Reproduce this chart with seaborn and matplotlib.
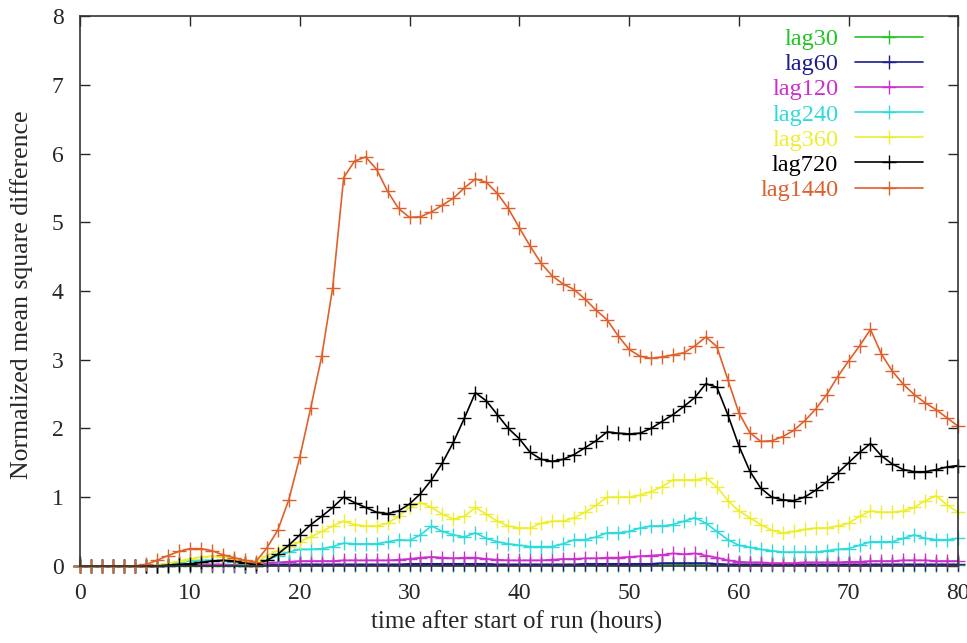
import numpy as np
import pandas as pd
import seaborn as sns
import matplotlib.pyplot as plt

hours = list(range(81))

lag30 = [0, 0, 0, 0, 0, 0, 0, 0, 0, 0,
         0, 0, 0, 0, 0, 0, 0, 0.01, 0.01, 0.01,
         0.01, 0.01, 0.01, 0.01, 0.01, 0.01, 0.01, 0.01, 0.01, 0.01,
         0.01, 0.01, 0.02, 0.01, 0.01, 0.01, 0.01, 0.01, 0.01, 0.01,
         0.01, 0.01, 0.01, 0.01, 0.01, 0.01, 0.01, 0.01, 0.01, 0.01,
         0.01, 0.01, 0.02, 0.02, 0.02, 0.02, 0.02, 0.02, 0.01, 0.01,
         0.01, 0.01, 0.01, 0.01, 0.01, 0.01, 0.01, 0.01, 0.01, 0.01,
         0.01, 0.01, 0.01, 0.01, 0.01, 0.01, 0.01, 0.01, 0.01, 0.01, 0.01]

lag60 = [0, 0, 0, 0, 0, 0, 0, 0, 0, 0.01,
         0.01, 0.01, 0.01, 0.01, 0.01, 0, 0, 0.01, 0.02, 0.02,
         0.02, 0.02, 0.02, 0.02, 0.02, 0.02, 0.02, 0.02, 0.02, 0.02,
         0.03, 0.03, 0.03, 0.03, 0.03, 0.03, 0.03, 0.03, 0.02, 0.02,
         0.02, 0.02, 0.02, 0.02, 0.02, 0.02, 0.03, 0.03, 0.03, 0.03,
         0.03, 0.03, 0.03, 0.04, 0.04, 0.04, 0.04, 0.04, 0.03, 0.02,
         0.02, 0.02, 0.02, 0.02, 0.02, 0.02, 0.02, 0.02, 0.02, 0.02,
         0.02, 0.02, 0.02, 0.02, 0.02, 0.02, 0.02, 0.02, 0.02, 0.02, 0.02]

lag120 = [0, 0, 0, 0, 0, 0, 0, 0, 0.01, 0.02,
          0.02, 0.02, 0.02, 0.02, 0.01, 0.01, 0.01, 0.04, 0.05, 0.06,
          0.07, 0.07, 0.07, 0.07, 0.08, 0.08, 0.08, 0.08, 0.08, 0.09,
          0.1, 0.12, 0.13, 0.12, 0.11, 0.12, 0.12, 0.1, 0.09, 0.08,
          0.08, 0.08, 0.08, 0.09, 0.1, 0.1, 0.11, 0.11, 0.12, 0.12,
          0.13, 0.14, 0.15, 0.16, 0.18, 0.17, 0.18, 0.15, 0.12, 0.08,
          0.06, 0.05, 0.05, 0.04, 0.04, 0.04, 0.05, 0.05, 0.05, 0.05,
          0.06, 0.06, 0.07, 0.07, 0.07, 0.08, 0.08, 0.08, 0.07, 0.07, 0.07]

lag240 = [0, 0, 0, 0, 0, 0, 0, 0.01, 0.03, 0.05,
          0.07, 0.08, 0.08, 0.07, 0.05, 0.03, 0.02, 0.08, 0.15, 0.2,
          0.24, 0.24, 0.25, 0.28, 0.33, 0.32, 0.32, 0.32, 0.35, 0.38,
          0.37, 0.45, 0.58, 0.5, 0.45, 0.42, 0.48, 0.4, 0.35, 0.32,
          0.3, 0.28, 0.28, 0.28, 0.32, 0.38, 0.38, 0.42, 0.48, 0.48,
          0.5, 0.55, 0.58, 0.58, 0.6, 0.65, 0.7, 0.62, 0.5, 0.38,
          0.3, 0.27, 0.24, 0.22, 0.2, 0.2, 0.2, 0.2, 0.22, 0.24,
          0.25, 0.3, 0.35, 0.35, 0.35, 0.4, 0.45, 0.4, 0.38, 0.38, 0.4]

lag360 = [0, 0, 0, 0, 0, 0, 0, 0.01, 0.03, 0.07,
          0.1, 0.13, 0.14, 0.13, 0.1, 0.06, 0.04, 0.15, 0.22, 0.28,
          0.35, 0.42, 0.5, 0.58, 0.65, 0.6, 0.58, 0.58, 0.62, 0.72,
          0.85, 0.92, 0.85, 0.75, 0.68, 0.72, 0.85, 0.75, 0.65, 0.58,
          0.55, 0.55, 0.62, 0.65, 0.65, 0.7, 0.78, 0.88, 1.0, 1.0,
          1.0, 1.03, 1.08, 1.15, 1.25, 1.25, 1.25, 1.28, 1.15, 0.95,
          0.8, 0.7, 0.6, 0.52, 0.48, 0.5, 0.53, 0.55, 0.55, 0.58,
          0.62, 0.72, 0.8, 0.78, 0.78, 0.8, 0.85, 0.95, 1.02, 0.88, 0.78]

lag720 = [0, 0, 0, 0, 0, 0, 0, 0, 0.01, 0.02,
          0.03, 0.05, 0.07, 0.08, 0.07, 0.04, 0.02, 0.08, 0.17, 0.3,
          0.45, 0.6, 0.72, 0.85, 1.0, 0.92, 0.85, 0.78, 0.76, 0.8,
          0.9, 1.05, 1.25, 1.5, 1.8, 2.15, 2.52, 2.4, 2.2, 2.0,
          1.85, 1.65, 1.55, 1.52, 1.55, 1.62, 1.72, 1.82, 1.95, 1.93,
          1.92, 1.93, 2.0, 2.1, 2.2, 2.32, 2.45, 2.65, 2.6, 2.2,
          1.75, 1.38, 1.13, 1.0, 0.96, 0.95, 1.0, 1.1, 1.22, 1.35,
          1.5, 1.65, 1.78, 1.6, 1.48, 1.4, 1.37, 1.37, 1.4, 1.44, 1.46]

lag1440 = [0, 0, 0, 0, 0, 0, 0.02, 0.08, 0.15, 0.21,
           0.25, 0.25, 0.22, 0.16, 0.12, 0.08, 0.06, 0.26, 0.52, 0.96,
           1.58, 2.3, 3.05, 4.05, 5.65, 5.89, 5.95, 5.77, 5.45, 5.2,
           5.07, 5.08, 5.15, 5.25, 5.35, 5.5, 5.63, 5.58, 5.42, 5.2,
           4.92, 4.65, 4.4, 4.22, 4.1, 4.02, 3.88, 3.72, 3.58, 3.35,
           3.15, 3.05, 3.02, 3.04, 3.07, 3.1, 3.2, 3.33, 3.19, 2.71,
           2.23, 1.94, 1.81, 1.82, 1.88, 1.97, 2.11, 2.28, 2.49, 2.75,
           2.98, 3.2, 3.44, 3.08, 2.83, 2.64, 2.49, 2.37, 2.27, 2.15, 2.03]

series = {
    "lag30": lag30,
    "lag60": lag60,
    "lag120": lag120,
    "lag240": lag240,
    "lag360": lag360,
    "lag720": lag720,
    "lag1440": lag1440,
}
colors = {
    "lag30": "#22c322",
    "lag60": "#1c1c8c",
    "lag120": "#cc30cc",
    "lag240": "#30dada",
    "lag360": "#eeee30",
    "lag720": "#000000",
    "lag1440": "#e0602c",
}

# long-form table for seaborn
df = pd.concat(
    [pd.DataFrame({"hour": hours, "value": v, "lag": k}) for k, v in series.items()],
    ignore_index=True,
)

sns.set_style("ticks")
plt.rcParams["font.family"] = ["Liberation Serif", "DejaVu Serif"]

fig = plt.figure(figsize=(9.67, 6.43), dpi=100)
ax = fig.add_axes([0.083, 0.12, 0.908, 0.855])

sns.lineplot(
    data=df, x="hour", y="value", hue="lag", palette=colors,
    hue_order=list(series.keys()), marker="+", markersize=9.5,
    markeredgewidth=1.0, linewidth=1.2, ax=ax, zorder=2,
)
# seaborn paints marker edges white; '+' needs the line colour
for ln in ax.lines:
    ln.set_markeredgecolor(ln.get_color())
    ln.set_clip_on(False)

ax.set_xlim(0, 80)
ax.set_ylim(0, 8)
ax.set_xticks(range(0, 81, 10))
ax.set_yticks(range(0, 9))
ax.tick_params(direction="in", top=True, right=True, length=7, width=1,
               labelsize=17, pad=12)
for s in ax.spines.values():
    s.set_linewidth(1.2)
    s.set_color("#333333")

ax.set_xlabel("time after start of run (hours)", fontsize=18)
ax.set_ylabel("Normalized mean square difference", fontsize=18.5)
ax.xaxis.set_label_coords(0.4966, -0.082)
ax.yaxis.set_label_coords(-0.054, 0.493)

leg = ax.legend(
    loc="upper right", bbox_to_anchor=(0.985, 1.018), frameon=False,
    markerfirst=False, labelcolor="linecolor", fontsize=17.5,
    handlelength=2.8, labelspacing=0.13, handletextpad=0.7,
    alignment="right",
)
for h in leg.legend_handles:
    h.set_markeredgecolor(h.get_color())
for t in leg.get_texts():
    t.set_ha("right")

fig.savefig("out.png", dpi=100)
